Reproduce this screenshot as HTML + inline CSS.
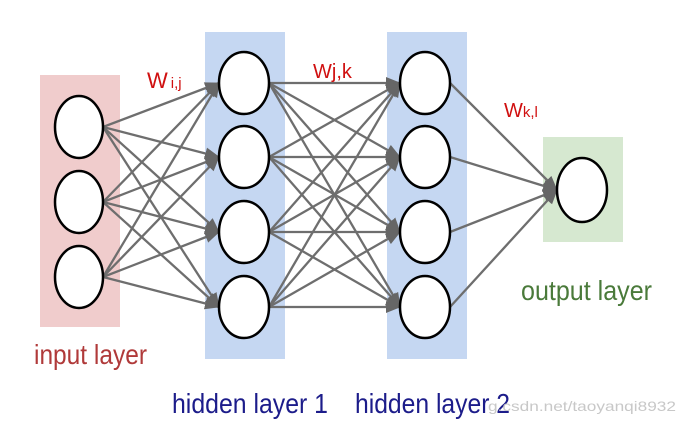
<!DOCTYPE html>
<html><head><style>
body{margin:0;background:#fff;width:683px;height:425px;overflow:hidden}
svg text{font-family:"Liberation Sans",sans-serif}
</style></head><body>
<svg width="683" height="425" viewBox="0 0 683 425">
<defs><marker id="a" markerWidth="16" markerHeight="14" refX="14" refY="7" orient="auto" markerUnits="userSpaceOnUse"><path d="M0,1 L15,7 L0,13 z" fill="#666"/></marker></defs>
<rect x="40" y="75" width="80" height="252" fill="#f0cccc"/>
<rect x="205" y="32" width="80" height="327" fill="#c5d7f2"/>
<rect x="387" y="32" width="80" height="327" fill="#c5d7f2"/>
<rect x="543" y="137" width="80" height="105" fill="#d6e8d0"/>
<g stroke="#6e6e6e" stroke-width="2.3" fill="none" marker-end="url(#a)">
<line x1="103" y1="127" x2="219" y2="83"/><line x1="103" y1="127" x2="219" y2="157"/><line x1="103" y1="127" x2="219" y2="232"/><line x1="103" y1="127" x2="219" y2="307"/>
<line x1="103" y1="202" x2="219" y2="83"/><line x1="103" y1="202" x2="219" y2="157"/><line x1="103" y1="202" x2="219" y2="232"/><line x1="103" y1="202" x2="219" y2="307"/>
<line x1="103" y1="277" x2="219" y2="83"/><line x1="103" y1="277" x2="219" y2="157"/><line x1="103" y1="277" x2="219" y2="232"/><line x1="103" y1="277" x2="219" y2="307"/>
<line x1="269" y1="83" x2="400" y2="83"/><line x1="269" y1="83" x2="400" y2="157"/><line x1="269" y1="83" x2="400" y2="232"/><line x1="269" y1="83" x2="400" y2="307"/>
<line x1="269" y1="157" x2="400" y2="83"/><line x1="269" y1="157" x2="400" y2="157"/><line x1="269" y1="157" x2="400" y2="232"/><line x1="269" y1="157" x2="400" y2="307"/>
<line x1="269" y1="232" x2="400" y2="83"/><line x1="269" y1="232" x2="400" y2="157"/><line x1="269" y1="232" x2="400" y2="232"/><line x1="269" y1="232" x2="400" y2="307"/>
<line x1="269" y1="307" x2="400" y2="83"/><line x1="269" y1="307" x2="400" y2="157"/><line x1="269" y1="307" x2="400" y2="232"/><line x1="269" y1="307" x2="400" y2="307"/>
<line x1="450" y1="83" x2="557" y2="190"/><line x1="450" y1="157" x2="557" y2="190"/><line x1="450" y1="232" x2="557" y2="190"/><line x1="450" y1="307" x2="557" y2="190"/>
</g>
<g fill="#fff" stroke="#000" stroke-width="2.5">
<ellipse cx="79" cy="127" rx="24" ry="31"/><ellipse cx="79" cy="202" rx="24" ry="31"/><ellipse cx="79" cy="277" rx="24" ry="31"/>
<ellipse cx="244" cy="83" rx="25" ry="31"/><ellipse cx="244" cy="157" rx="25" ry="31"/><ellipse cx="244" cy="232" rx="25" ry="31"/><ellipse cx="244" cy="307" rx="25" ry="31"/>
<ellipse cx="425" cy="83" rx="25" ry="31"/><ellipse cx="425" cy="157" rx="25" ry="31"/><ellipse cx="425" cy="232" rx="25" ry="31"/><ellipse cx="425" cy="307" rx="25" ry="31"/>
<ellipse cx="582" cy="190" rx="25" ry="32"/>
</g>
<text x="147" y="88" fill="#d01010" font-size="22">W<tspan font-size="15" dx="3">i,j</tspan></text>
<text x="313" y="78" fill="#d01010" font-size="20">Wj,k</text>
<text x="504" y="117" fill="#d01010" font-size="20">W<tspan font-size="15">k,l</tspan></text>
<text x="34" y="364" fill="#b03a3a" font-size="28" textLength="113" lengthAdjust="spacingAndGlyphs">input layer</text>
<text x="172" y="413" fill="#1c1c8a" font-size="28" textLength="156" lengthAdjust="spacingAndGlyphs">hidden layer 1</text>
<text x="355" y="413" fill="#1c1c8a" font-size="28" textLength="155" lengthAdjust="spacingAndGlyphs">hidden layer 2</text>
<text x="521" y="300" fill="#4a7a3a" font-size="28" textLength="131" lengthAdjust="spacingAndGlyphs">output layer</text>
<text x="488" y="411" fill="#c8c8c8" font-size="14" font-family="Liberation Serif" textLength="188" lengthAdjust="spacingAndGlyphs">g.csdn.net/taoyanqi8932</text>
</svg>
</body></html>
